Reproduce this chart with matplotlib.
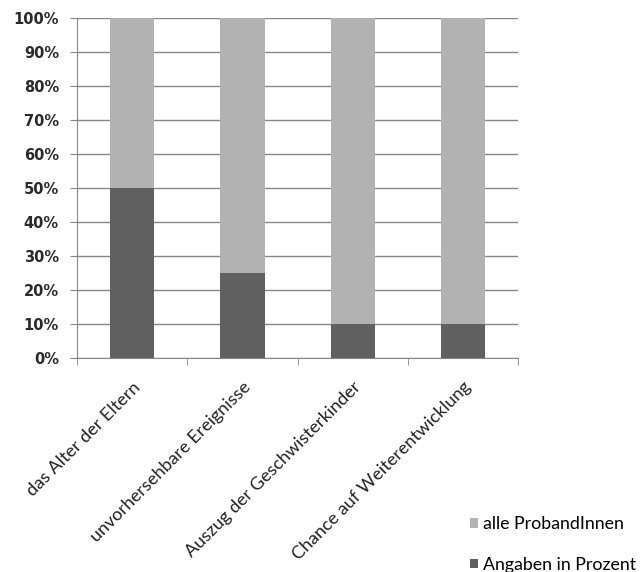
import matplotlib
matplotlib.use("Agg")
import matplotlib.pyplot as plt
import numpy as np

# data
categories = ["das Alter der Eltern", "unvorhersehbare Ereignisse",
              "Auszug der Geschwisterkinder", "Chance auf Weiterentwicklung"]
angaben = [50, 25, 10, 10]
alle = [50, 75, 90, 90]
yticks = [0, 10, 20, 30, 40, 50, 60, 70, 80, 90, 100]

dark = "#606060"
light = "#b2b2b2"
grid_col = "#878787"

fig = plt.figure(figsize=(6.44, 5.72), dpi=100)
ax = fig.add_axes([0.1196, 0.374, 0.685, 0.5945])

x = np.arange(len(categories))
b1 = ax.bar(x, angaben, width=0.4, color=dark, zorder=3, label="Angaben in Prozent")
b2 = ax.bar(x, alle, width=0.4, bottom=angaben, color=light, zorder=3, label="alle ProbandInnen")

ax.set_xlim(-0.5, len(categories) - 0.5)
ax.set_ylim(0, 100)
ax.set_yticks(yticks)
ax.set_yticklabels([f"{v}%" for v in yticks], fontsize=10.5, fontweight="bold", color="#2a2a2a")
ax.yaxis.grid(True, color=grid_col, linewidth=1, zorder=0)
ax.tick_params(axis="y", length=5, color=grid_col, pad=8)

ax.set_xticks(x)
ax.set_xticklabels(categories, rotation=45, ha="right", rotation_mode="anchor",
                   fontsize=13, family="Lato", color="#222222")
ax.set_xticks(np.arange(len(categories) + 1) - 0.5, minor=True)
ax.tick_params(axis="x", which="major", length=0, pad=15)
ax.tick_params(axis="x", which="minor", length=5, color=grid_col)

for s in ["top", "right"]:
    ax.spines[s].set_visible(False)
ax.spines["left"].set_color(grid_col)
ax.spines["bottom"].set_color(grid_col)

fig.legend([b2, b1], ["alle ProbandInnen", "Angaben in Prozent"],
           loc="upper left", bbox_to_anchor=(0.718, 0.11), frameon=False,
           prop={"family": "Lato", "size": 12.8}, handlelength=0.45, handleheight=0.45,
           handletextpad=0.3, labelspacing=1.38, borderaxespad=0)

fig.savefig("out.png", dpi=100)
